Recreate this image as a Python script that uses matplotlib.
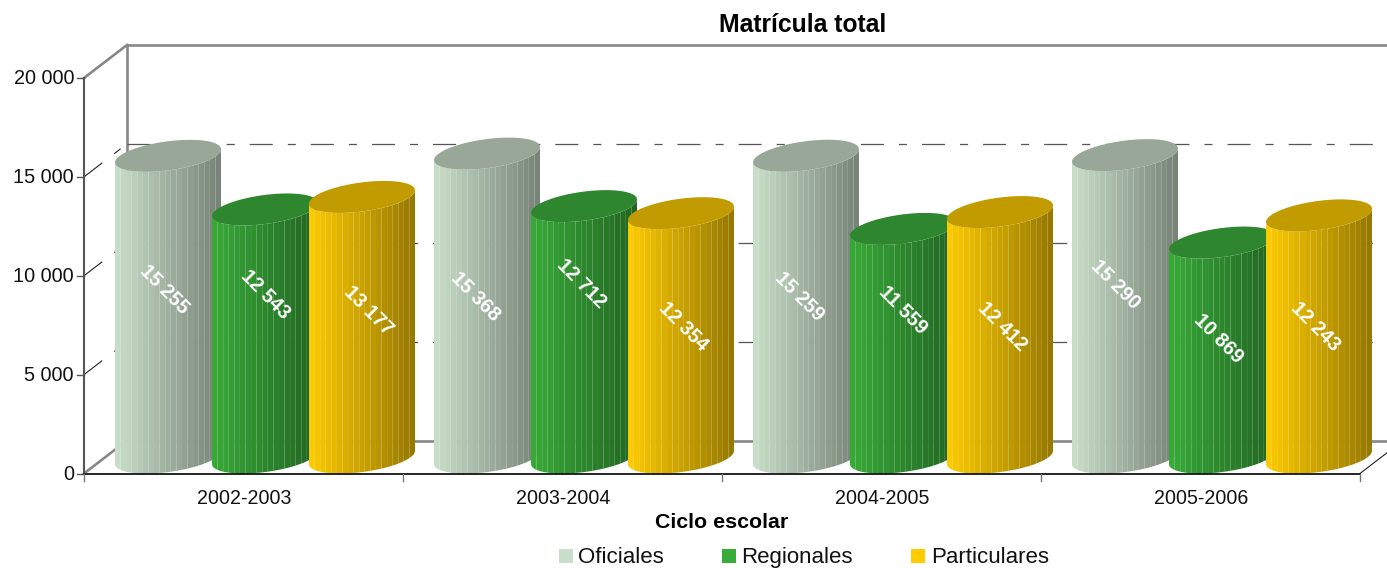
import numpy as np
import matplotlib
matplotlib.use("Agg")
import matplotlib.pyplot as plt
from matplotlib.patches import Polygon, Rectangle
from matplotlib.colors import to_rgb

# ---- data
categories = ["2002-2003", "2003-2004", "2004-2005", "2005-2006"]
series_names = ["Oficiales", "Regionales", "Particulares"]
oficiales = [15255, 15368, 15259, 15290]
regionales = [12543, 12712, 11559, 10869]
particulares = [13177, 12354, 12412, 12243]
y_ticks = [0, 5000, 10000, 15000, 20000]
y_tick_labels = ["0", "5 000", "10 000", "15 000", "20 000"]
title = "Matrícula total"
x_title = "Ciclo escolar"

# ---- styles / layout (pixels of the 1387x568 canvas)
W, H = 1387, 568
PX_X0, PX_CAT = 84.0, 319.0
PX_Y0, PX_PER = 473.5, 395.5 / 20000
DEPTH_X, DEPTH_Y = 43.0, 33.0
colors = ["#CADFCA", "#38AB38", "#FFCC00"]
tops = ["#98A798", "#2E872E", "#C29B00"]
GRAY = "#888888"
DARK = "#555555"
DASH = (0, (16.6, 10.8, 5.8, 10.8))
label_px = [
    [(164, 290), (265, 295), (368, 311)],
    [(475, 297), (581, 284), (683, 327)],
    [(799, 297), (903, 310), (1002, 327)],
    [(1115, 285), (1218, 339), (1315, 327)],
]
legend_px = [(559, 578), (722, 741), (911, 931)]

plt.rcParams["font.family"] = ["Liberation Sans", "DejaVu Sans"]
plt.rcParams["lines.scale_dashes"] = False

fig = plt.figure(figsize=(W / 100, H / 100), dpi=100)
ax = fig.add_axes([0, 0, 1, 1])
ax.set_xlim(-PX_X0 / PX_CAT, (W - PX_X0) / PX_CAT)
ax.set_ylim((PX_Y0 - H) / PX_PER, PX_Y0 / PX_PER)
ax.axis("off")


def px(x):
    return (x - PX_X0) / PX_CAT


def py(y):
    return (PX_Y0 - y) / PX_PER


dx = DEPTH_X / PX_CAT
dv = DEPTH_Y / PX_PER
vmax = y_ticks[-1]
xmax = ax.get_xlim()[1]
ncat = len(categories)

# ---- back wall and floor
for xs, ys in [([dx, xmax], [vmax + dv, vmax + dv]), ([dx, dx], [dv, vmax + dv]),
               ([0, dx], [vmax, vmax + dv]), ([0, dx], [0, dv]), ([dx, xmax], [dv, dv])]:
    ax.plot(xs, ys, color=GRAY, lw=1.9, zorder=1)
for v in y_ticks[1:-1]:
    ax.plot([dx, xmax], [v + dv, v + dv], color=DARK, lw=0.9, ls=DASH,
            dash_capstyle="butt", zorder=1)
    ax.plot([0, dx], [v, v + dv], color="#222222", lw=0.8, ls=DASH,
            dash_capstyle="butt", zorder=1)
ax.plot([ncat, ncat + dx], [0, dv], color="#222222", lw=0.8, zorder=1)

# ---- cylinders
R_TOT, M = 53.0, 16.0
K = 22.0
R = np.sqrt(R_TOT ** 2 - K ** 2)
T0 = np.arctan2(K, R)
GROUP_START, SERIES_STEP = 84.0 / PX_CAT, 97.0 / PX_CAT
N_FACETS = 19


def ring(cx, value, t):
    xs = cx + (R * np.cos(t) + K * np.sin(t)) / PX_CAT
    ys = value + M / PX_PER * (1 + np.sin(t))
    return xs, ys


def cylinder(cx, value, color, top, z):
    base = np.array(to_rgb(color))
    fracs = np.linspace(0, 1, N_FACETS + 1)
    edges = T0 + np.pi + np.arccos(1 - 2 * fracs)
    t_all = np.linspace(edges[0], edges[-1], 80)
    xb, yb = ring(cx, 0, t_all)
    xt, yt = ring(cx, value, t_all)
    body = np.column_stack([np.r_[xb, xt[::-1]], np.r_[yb, yt[::-1]]])
    ax.add_patch(Polygon(body, closed=True, facecolor=(1, 1, 1, 0.8),
                         edgecolor="none", zorder=z))
    for i in range(N_FACETS):
        t = np.linspace(edges[i], edges[i + 1], 6)
        xb, yb = ring(cx, 0, t)
        xt, yt = ring(cx, value, t)
        shade = 1 - 0.42 * (fracs[i] + fracs[i + 1]) / 2
        poly = np.column_stack([np.r_[xb, xt[::-1]], np.r_[yb, yt[::-1]]])
        ax.add_patch(Polygon(poly, closed=True, facecolor=base * shade,
                             edgecolor="none", antialiased=True, zorder=z + 0.1))
    t = np.linspace(0, 2 * np.pi, 120)
    xt, yt = ring(cx, value, t)
    ax.add_patch(Polygon(np.column_stack([xt, yt]), closed=True, facecolor=top,
                         edgecolor="none", zorder=z + 0.5))


series_values = [oficiales, regionales, particulares]
for c in range(ncat):
    for s, values in enumerate(series_values):
        cylinder(c + GROUP_START + s * SERIES_STEP, values[c], colors[s], tops[s], 2 + s + 4 * c)

# ---- value labels
for c in range(ncat):
    for s, values in enumerate(series_values):
        lx, ly = label_px[c][s]
        ax.text(px(lx), py(ly), f"{values[c]:,}".replace(",", " "), color="white",
                fontsize=14.3, fontweight="bold", rotation=-45, ha="center",
                va="center", rotation_mode="anchor", zorder=50)

# ---- front axes
ax.plot([0, 0], [0, vmax], color=DARK, lw=1.5, zorder=40)
ax.plot([0, ncat], [0, 0], color="black", lw=1.2, zorder=40)
tick_len_y = 7 / PX_PER
tick_len_x = 7 / PX_CAT
for v, lab in zip(y_ticks, y_tick_labels):
    ax.plot([-tick_len_x, 0], [v, v], color=DARK, lw=1.0, zorder=40)
    ax.text(-10 / PX_CAT, v + 1 / PX_PER, lab, ha="right", va="center_baseline",
            fontsize=14.3, color="#111111", zorder=40)
for i in range(ncat + 1):
    ax.plot([i, i], [0, -tick_len_y], color="#777777", lw=1.0, zorder=40)
for i, lab in enumerate(categories):
    ax.text(i + 0.5 + 0.5 / PX_CAT, py(497), lab, ha="center", va="center_baseline",
            fontsize=14.1, color="#111111")

ax.text(px(803), py(22), title, ha="center", va="center_baseline", fontsize=17.8,
        fontweight="bold", color="black")
ax.text(px(722), py(520), x_title, ha="center", va="center_baseline", fontsize=15.4,
        fontweight="bold", color="black")

# ---- legend
for (sx, tx), c, n in zip(legend_px, colors, series_names):
    ax.add_patch(Rectangle((px(sx), py(563)), 14 / PX_CAT, 14 / PX_PER,
                           facecolor=c, edgecolor="none", zorder=40))
    ax.text(px(tx), py(563), n, ha="left", va="baseline", fontsize=16, color="#111111")

fig.savefig("out.png", dpi=100)
